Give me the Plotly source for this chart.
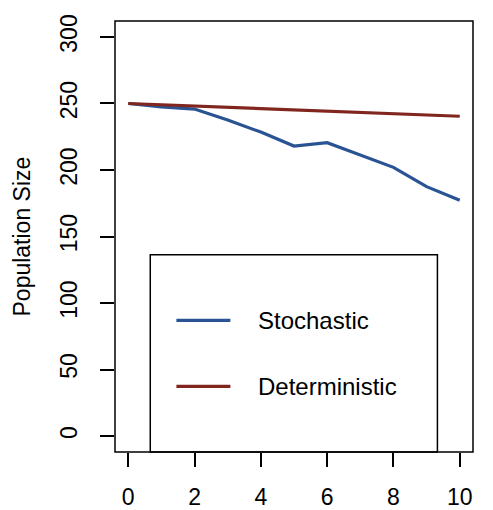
import plotly.graph_objects as go

# time steps and the two population curves
years = [0, 1, 2, 3, 4, 5, 6, 7, 8, 9, 10]
stochastic = [250, 247.5, 245.8, 237.5, 228.5, 218, 220.5, 211.5, 202, 187.5, 177.2]
deterministic = [250, 249, 248, 247, 246, 245.1, 244.1, 243.1, 242.2, 241.2, 240.4]

series_names = ["Stochastic", "Deterministic"]
series_colors = ["#2A5394", "#80261F"]

fig = go.Figure()
for name, vals, col in zip(series_names, [stochastic, deterministic], series_colors):
    fig.add_trace(go.Scatter(x=years, y=vals, mode="lines", name=name,
                             line=dict(color=col, width=3.2), showlegend=False))

font = dict(family="Liberation Sans, Arial, sans-serif", size=23, color="black")

# box around the plot region (R style)
fig.add_shape(type="rect", xref="x domain", yref="y domain", x0=0, x1=1, y0=0, y1=1,
              line=dict(color="black", width=1.5))

# hand drawn legend box, like R's legend()
fig.add_shape(type="rect", xref="x domain", yref="y domain", x0=0.0985, x1=0.9006, y0=0, y1=0.4578,
              line=dict(color="black", width=1.5), fillcolor="rgba(0,0,0,0)")
for i, (name, col) in enumerate(zip(series_names, series_colors)):
    yy = [0.3053, 0.1522][i]
    fig.add_shape(type="line", xref="x domain", yref="y domain", x0=0.1715, x1=0.3223, y0=yy, y1=yy,
                  line=dict(color=col, width=3.2))
    fig.add_annotation(text=name, xref="x domain", yref="y domain", x=0.395, y=yy,
                       xanchor="left", yanchor="middle", showarrow=False,
                       font=dict(family=font["family"], size=24, color="black"))

# y title as annotation so it can sit further left than the margin allows
fig.add_annotation(text="Population Size", xref="paper", yref="paper", x=0, y=0.5,
                   xshift=-94, xanchor="center", yanchor="middle", textangle=-90,
                   showarrow=False, font=font)

# page body adds 8px, so margins are pulled in by that much
fig.update_layout(
    width=493, height=510,
    margin=dict(l=107, r=28, t=13, b=66, autoexpand=False),
    plot_bgcolor="white", paper_bgcolor="white",
    font=font,
)
fig.update_xaxes(range=[-0.4, 10.4], tickvals=[0, 2, 4, 6, 8, 10], ticks="outside", ticklen=14,
                 tickwidth=1.5, tickcolor="black", showgrid=False, zeroline=False, showline=False,
                 ticklabelstandoff=10, automargin=False)
fig.update_yaxes(range=[-12, 312], tickvals=[0, 50, 100, 150, 200, 250, 300], ticks="outside", ticklen=14,
                 tickwidth=1.5, tickcolor="black", showgrid=False, zeroline=False, showline=False,
                 tickangle=-90, ticklabelstandoff=14, automargin=False)

fig.write_html("out.html")
